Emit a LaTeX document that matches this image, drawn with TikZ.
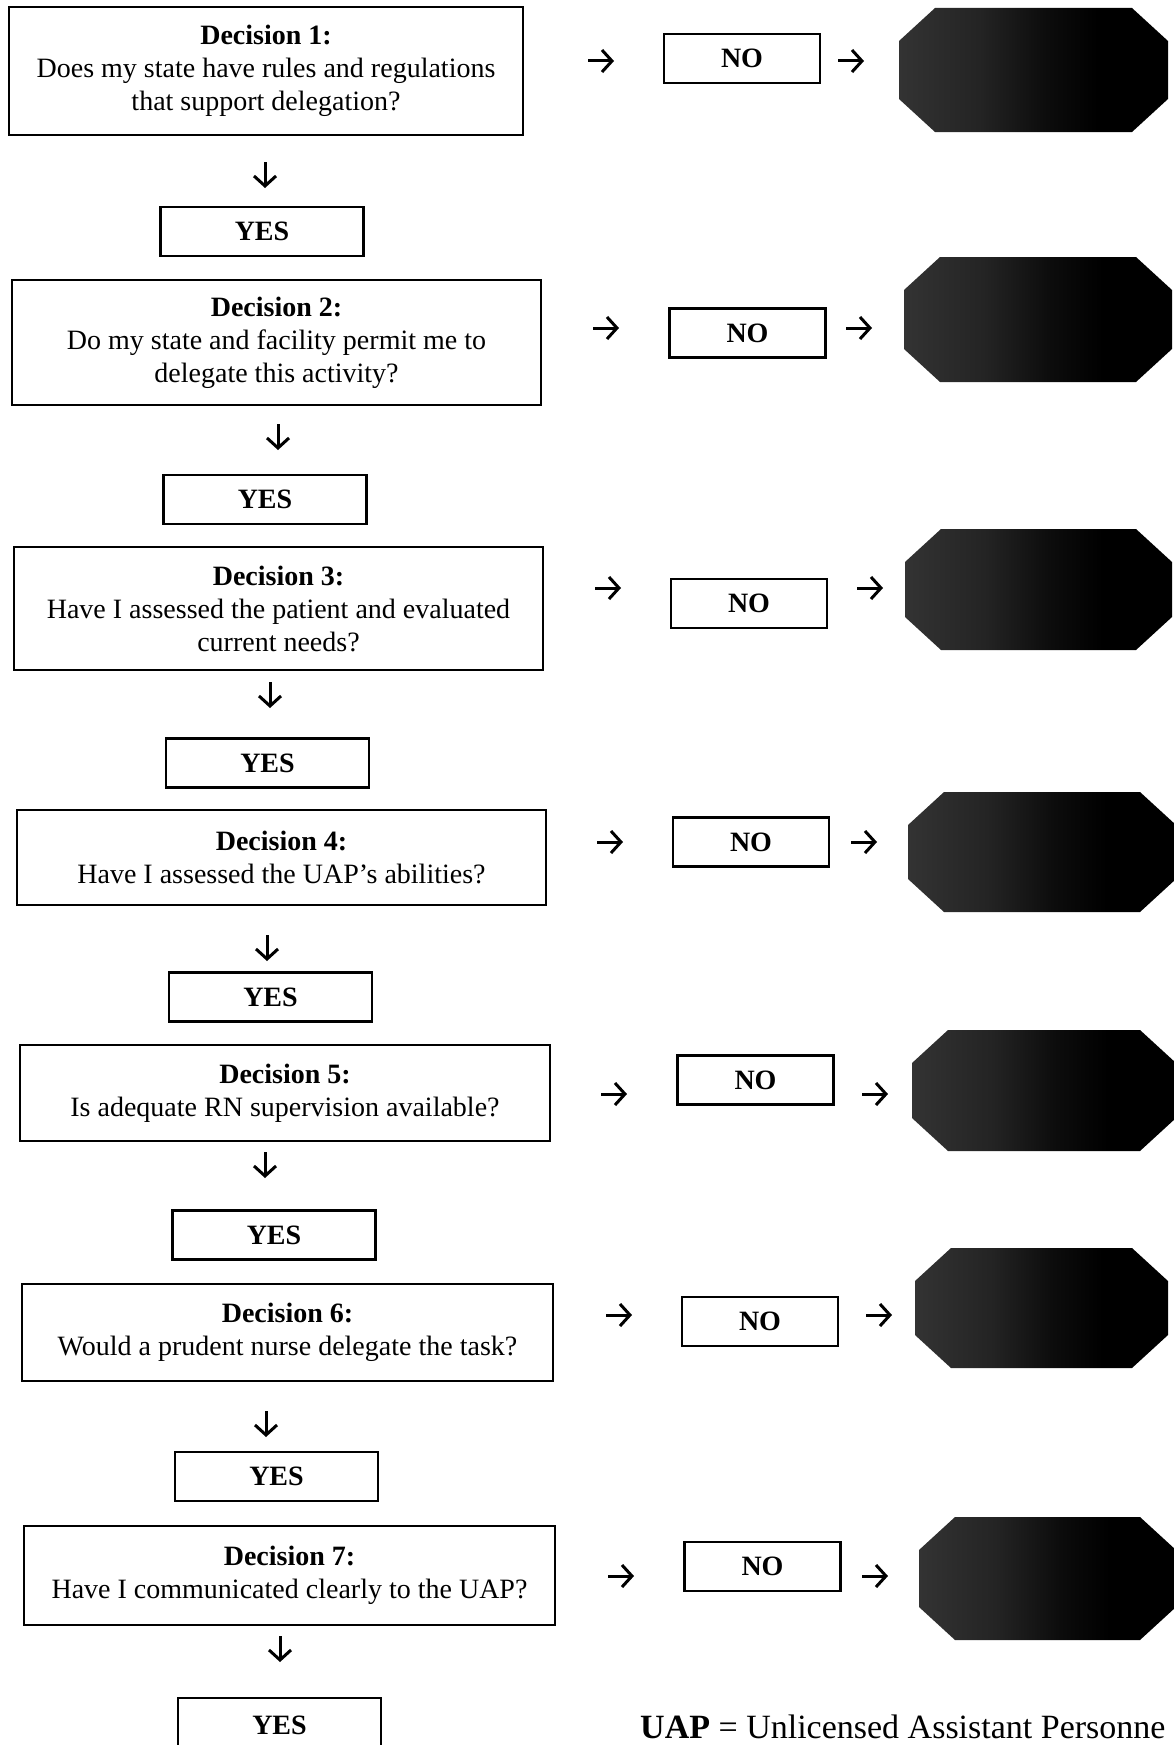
\documentclass[tikz,border=0pt]{standalone}
\usepackage{fontspec}
\setmainfont{Liberation Serif}
\usetikzlibrary{arrows.meta}
\pgfdeclarehorizontalshading{octoshade}{100bp}{color(0bp)=(black!80); color(25bp)=(black!80); color(40bp)=(black!86); color(52bp)=(black!95); color(62bp)=(black); color(100bp)=(black)}
\newcommand\octo[5]{%
  \shade[shading=octoshade] (#2+36,#4) -- (#3-36,#4) -- (#3,#4+33) -- (#3,#5-33) -- (#3-36,#5) -- (#2+36,#5) -- (#2,#5-33) -- (#2,#4+33) -- cycle;
  \coordinate (#1) at ({(#2+#3)/2},{(#4+#5)/2});}
\newcommand\rarr[2]{\draw[arr] (#1-13,#2) -- (#1+13,#2);}
\newcommand\darr[2]{\draw[arr] (#1,#2-13) -- (#1,#2+13);}
\begin{document}
\begin{tikzpicture}[x=1pt,y=-1pt,
  font=\fontsize{28}{33}\selectfont,
  box/.style={draw, line width=2.2pt, inner sep=0pt, align=center},
  yesbox/.style={box, minimum width=203pt, minimum height=49pt, font=\fontsize{28}{33}\selectfont\bfseries},
  nobox/.style={box, minimum width=156pt, minimum height=49pt, font=\fontsize{28}{33}\selectfont\bfseries},
  arr/.style={line width=3pt, -{Straight Barb[length=10pt,width=22pt,line width=3pt]}}]
\useasboundingbox (0,0) rectangle (1174,1745);
\fill[white] (0,0) rectangle (1174,1745);

% decisions
\node[box, minimum width=514pt, minimum height=128pt] (d1) at (266,71)
  {\textbf{Decision 1:}\\Does my state have rules and regulations\\that support delegation?};
\node[box, minimum width=529pt, minimum height=125pt] (d2) at (276.5,342.5)
  {\textbf{Decision 2:}\\Do my state and facility permit me to\\delegate this activity?};
\node[box, minimum width=529pt, minimum height=123pt] (d3) at (278.5,608.5)
  {\textbf{Decision 3:}\\Have I assessed the patient and evaluated\\current needs?};
\node[box, minimum width=529pt, minimum height=95pt] (d4) at (281.5,857.5)
  {\textbf{Decision 4:}\\Have I assessed the UAP's abilities?};
\node[box, minimum width=530pt, minimum height=96pt] (d5) at (285,1093)
  {\textbf{Decision 5:}\\Is adequate RN supervision available?};
\node[box, minimum width=531pt, minimum height=97pt] (d6) at (287.5,1332.5)
  {\textbf{Decision 6:}\\Would a prudent nurse delegate the task?};
\node[box, minimum width=531pt, minimum height=99pt] (d7) at (289.5,1575.5)
  {\textbf{Decision 7:}\\Have I communicated clearly to the UAP?};

% yes boxes
\node[yesbox] (y1) at (262,231.5) {YES};
\node[yesbox] (y2) at (265,499.5) {YES};
\node[yesbox] (y3) at (267.5,763) {YES};
\node[yesbox] (y4) at (270.5,997) {YES};
\node[yesbox] (y5) at (274,1235) {YES};
\node[yesbox] (y6) at (276.5,1476.5) {YES};
\node[yesbox, minimum height=54pt] (y7) at (279.5,1725) {YES};

% no boxes
\node[nobox] (n1) at (742,58.5) {NO};
\node[nobox] (n2) at (747.5,333) {NO};
\node[nobox] (n3) at (749,603.5) {NO};
\node[nobox] (n4) at (751,842) {NO};
\node[nobox] (n5) at (755.5,1080) {NO};
\node[nobox] (n6) at (760,1321.5) {NO};
\node[nobox] (n7) at (762.5,1566.5) {NO};

% stop octagons
\octo{o1}{899}{1168}{8}{132}
\octo{o2}{904}{1172}{257}{382}
\octo{o3}{905}{1172}{529}{650}
\octo{o4}{908}{1176}{792}{912}
\octo{o5}{912}{1176}{1030}{1151}
\octo{o6}{915}{1168}{1248}{1368}
\octo{o7}{919}{1176}{1517}{1640}

% arrows
\rarr{601}{61}  \rarr{851}{61}
\rarr{606}{328} \rarr{859}{328}
\rarr{608}{588} \rarr{870}{588}
\rarr{610}{842} \rarr{864}{842}
\rarr{614}{1094} \rarr{875}{1094}
\rarr{619}{1315} \rarr{879}{1315}
\rarr{621}{1576} \rarr{875}{1576}
\darr{265}{175}
\darr{278}{437}
\darr{270}{695}
\darr{267}{948}
\darr{265}{1165}
\darr{266}{1424}
\darr{280}{1649}

\node[anchor=base west, inner sep=0pt, font=\fontsize{34}{40}\selectfont] (uap) at (640,1738)
  {\textbf{UAP} = Unlicensed Assistant Personne};
\end{tikzpicture}
\end{document}
